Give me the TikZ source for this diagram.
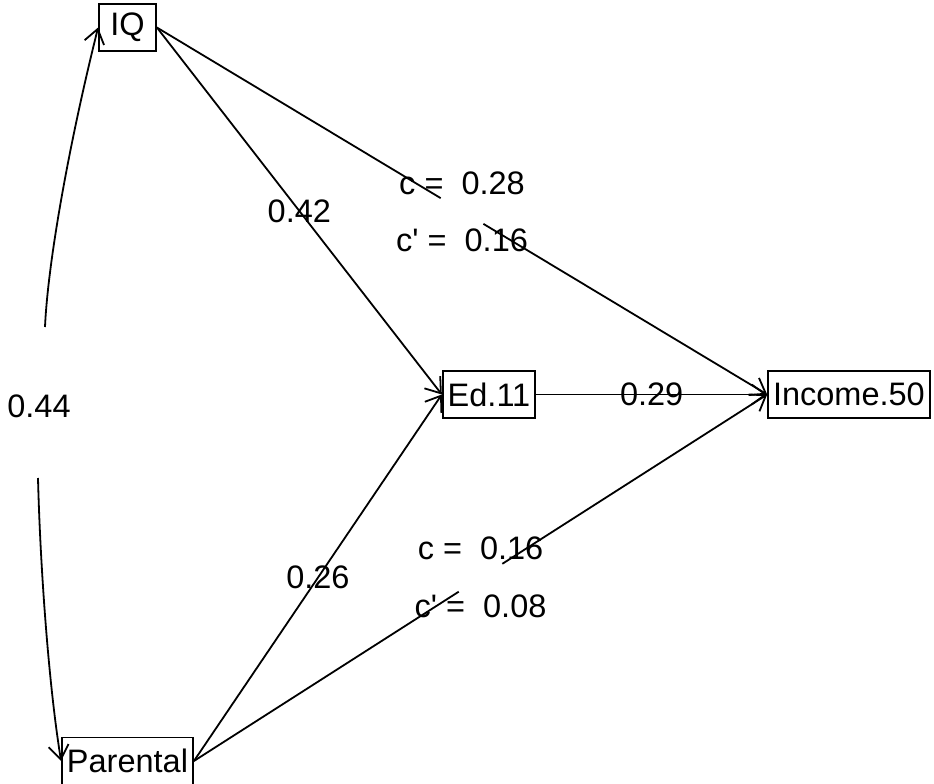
\documentclass[tikz,border=0pt]{standalone}
\usepackage{fontspec}
\setmainfont{Liberation Sans}[Ligatures=TeXOff]
\usetikzlibrary{positioning, arrows.meta, calc}

\begin{document}
\begin{tikzpicture}[>={Straight Barb[length=14pt, width=20pt]}, x=1pt, y=-1pt, line width=1.8pt,
        every node/.style={draw, inner xsep=5pt, inner ysep=0pt, minimum height=47pt, font=\fontsize{32.5}{38}\selectfont},
        lab/.style={draw=none, minimum height=0pt, inner sep=0pt}]
        \useasboundingbox (0,0) rectangle (934,784);
        \node[minimum width=57pt] (iq) at (127.5,27.5) {IQ};
        \node (par) at (127.5,761) {Parental};
        \node (ed) at (489,394.5) {Ed.11};
        \node[right=231pt of ed] (inc) {Income.50};
        \draw[->] (iq.east) -- node[lab] (l42) {0.42} (ed.west);
        \draw[->] (par.east) -- node[lab] (l26) {0.26} (ed.west);
        \draw[->] (ed) -- node[lab] (l29) {0.29} (inc);
        % direct paths, broken where c and c' sit
        \draw (iq.east) -- ($(iq.east)!0.465!(inc.west)$);
        \draw[->] ($(iq.east)!0.535!(inc.west)$) -- (inc.west);
        \node[lab] (c1) at ($(iq.east)!0.5!(inc.west)+(0,-28)$) {c = \ 0.28};
        \node[lab] (cp1) at ($(iq.east)!0.5!(inc.west)+(0,29)$) {c' = \ 0.16};
        \draw (par.east) -- ($(par.east)!0.462!(inc.west)$);
        \draw[->] ($(par.east)!0.538!(inc.west)$) -- (inc.west);
        \node[lab] (c2) at ($(par.east)!0.5!(inc.west)+(0,-29)$) {c = \ 0.16};
        \node[lab] (cp2) at ($(par.east)!0.5!(inc.west)+(0,29)$) {c' = \ 0.08};
        % correlation
        \coordinate (cu) at (45,327);
        \coordinate (cl) at (38,478);
        \draw[->] (cu) .. controls (48,260) and (70,140) .. (iq.west);
        \draw[->] (cl) .. controls (40,560) and (48,680) .. (par.west);
        \node[lab] (l44) at (39,406) {0.44};
    \end{tikzpicture}
\end{document}
